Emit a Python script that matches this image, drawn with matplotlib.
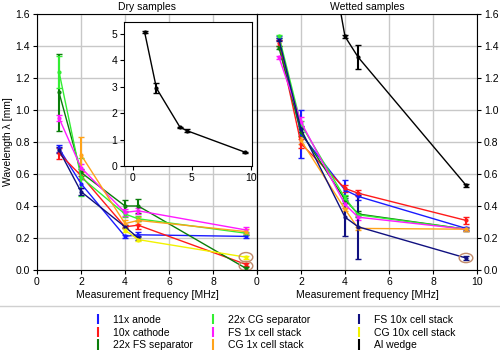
import matplotlib
matplotlib.use("Agg")
import matplotlib.pyplot as plt
from matplotlib.patches import Ellipse
from matplotlib.lines import Line2D

plt.rcParams["font.family"] = ["Liberation Sans", "DejaVu Sans"]
plt.rcParams["font.size"] = 7.5

labels = ["11x anode", "10x cathode", "22x FS separator", "22x CG separator",
          "FS 1x cell stack", "CG 1x cell stack", "FS 10x cell stack",
          "CG 10x cell stack", "Al wedge"]
colors = ["#1a1aff", "#ff1a1a", "#0a7d0a", "#33ee33", "#ff1aff",
          "#ffa31a", "#101080", "#f2f200", "#000000"]

# dry samples: frequency [MHz], wavelength [mm], error
dry_f = [[1, 2, 4, 4.6, 9.5], [1, 2, 4, 4.6, 9.5], [1, 2, 4, 4.6, 9.5],
         [1, 2, 4, 4.6, 9.5], [1, 2, 4, 4.6, 9.5], [2, 4, 4.6, 9.5],
         [1, 2, 4, 4.6], [4, 4.6, 9.5]]
dry_y = [[0.76, 0.54, 0.21, 0.22, 0.21],
         [0.73, 0.59, 0.27, 0.28, 0.035],
         [1.11, 0.61, 0.40, 0.40, 0.01],
         [1.24, 0.58, 0.35, 0.32, 0.23],
         [0.95, 0.64, 0.36, 0.37, 0.25],
         [0.72, 0.29, 0.31, 0.24],
         [0.75, 0.49, 0.27, 0.20],
         [0.25, 0.19, 0.08]]
dry_e = [[0.02, 0.03, 0.01, 0.015, 0.01],
         [0.035, 0.02, 0.01, 0.025, 0.01],
         [0.24, 0.02, 0.04, 0.045, 0.01],
         [0.10, 0.12, 0.02, 0.015, 0.01],
         [0.02, 0.02, 0.02, 0.02, 0.02],
         [0.11, 0.02, 0.02, 0.015],
         [0.02, 0.02, 0.01, 0.01],
         [0.01, 0.01, 0.01]]
al_dry_f = [1, 2, 4, 4.6, 9.5]
al_dry_y = [5.07, 2.95, 1.47, 1.34, 0.53]
al_dry_e = [0.03, 0.18, 0.03, 0.06, 0.02]

# wetted samples
wet_f = [[1, 2, 4, 4.6, 9.5], [1, 2, 4, 4.6, 9.5], [1, 2, 4, 4.6, 9.5],
         [1, 2, 4, 4.6, 9.5], [1, 2, 4, 4.6, 9.5], [2, 4, 4.6, 9.5],
         [1, 2, 4, 4.6, 9.5], [], [1, 2, 4, 4.6, 9.5]]
wet_y = [[1.45, 0.85, 0.50, 0.46, 0.26],
         [1.42, 0.79, 0.51, 0.48, 0.31],
         [1.39, 0.86, 0.44, 0.35, 0.255],
         [1.46, 0.91, 0.45, 0.345, 0.255],
         [1.33, 0.925, 0.41, 0.33, 0.255],
         [0.81, 0.38, 0.26, 0.255],
         [1.44, 0.88, 0.33, 0.27, 0.075],
         [],
         [5.0, 3.0, 1.46, 1.33, 0.53]]
wet_e = [[0.01, 0.15, 0.06, 0.02, 0.01],
         [0.02, 0.03, 0.02, 0.02, 0.02],
         [0.01, 0.02, 0.02, 0.02, 0.01],
         [0.01, 0.02, 0.02, 0.01, 0.01],
         [0.01, 0.03, 0.02, 0.02, 0.01],
         [0.02, 0.01, 0.01, 0.01],
         [0.01, 0.02, 0.12, 0.20, 0.01],
         [],
         [0.0, 0.0, 0.01, 0.075, 0.01]]

# circled points: (panel, freq, value)
circled = [("dry", 9.5, 0.08), ("dry", 9.5, 0.025), ("wet", 9.5, 0.075)]

fig = plt.figure(figsize=(5.0, 3.52), dpi=100)
ax1 = fig.add_axes([0.074, 0.233, 0.44, 0.727])
ax2 = fig.add_axes([0.514, 0.233, 0.44, 0.727])

ekw = dict(marker=".", markersize=4, lw=1, elinewidth=1.5, capsize=2.2, capthick=1)

for i in range(len(dry_f)):
    ax1.errorbar(dry_f[i], dry_y[i], yerr=dry_e[i], color=colors[i], **ekw)
for i in range(len(wet_f)):
    if wet_f[i]:
        ax2.errorbar(wet_f[i], wet_y[i], yerr=wet_e[i], color=colors[i], **ekw)

yt = [0, 0.2, 0.4, 0.6, 0.8, 1.0, 1.2, 1.4, 1.6]
ytl = ["0.0", "0.2", "0.4", "0.6", "0.8", "1.0", "1.2", "1.4", "1.6"]
for ax in (ax1, ax2):
    ax.set_xlim(0, 10)
    ax.set_ylim(0, 1.6)
    ax.set_yticks(yt)
    ax.set_yticklabels(ytl)
    ax.set_xticks([0, 2, 4, 6, 8, 10])
    ax.grid(True, color="#c8c8c8", lw=1)
    ax.set_axisbelow(True)
    ax.set_xlabel("Measurement frequency [MHz]", labelpad=2)
    ax.tick_params(length=3, pad=2)

ax1.set_xticklabels(["0", "2", "4", "6", "8", ""])
ax1.set_ylabel("Wavelength λ [mm]", labelpad=2)
ax1.set_title("Dry samples", pad=3, fontsize=7.5)
ax2.set_title("Wetted samples", pad=3, fontsize=7.5)
ax2.yaxis.tick_right()

for panel, f, v in circled:
    ax = ax1 if panel == "dry" else ax2
    ax.add_patch(Ellipse((f, v), 0.62, 0.058, fill=False, ec="#c08a6a", lw=1, zorder=5))

# inset with dry Al wedge
ins = fig.add_axes([0.248, 0.528, 0.256, 0.409])
ins.errorbar(al_dry_f, al_dry_y, yerr=al_dry_e, color=colors[8], **ekw)
ins.set_xlim(-0.75, 10.1)
ins.set_ylim(0, 5.45)
ins.set_xticks([0, 5, 10])
ins.set_yticks([0, 1, 2, 3, 4, 5])
ins.tick_params(length=3, pad=2)

# legend below
fig.add_artist(Line2D([0, 1], [0.131, 0.131], color="#d0d0d0", lw=1))
handles = []
for c in colors:
    h = ax1.errorbar([], [], yerr=[], fmt="none", ecolor=c, elinewidth=1.5,
                     capsize=2.2, capthick=1)
    handles.append(h)
for col, x0 in enumerate([0.164, 0.394, 0.686]):
    leg = fig.legend(handles[col * 3:col * 3 + 3], labels[col * 3:col * 3 + 3],
                     loc="upper left", bbox_to_anchor=(x0, 0.129), frameon=False,
                     fontsize=7.5, handlelength=1.5, handletextpad=0.7,
                     labelspacing=0.25, borderpad=0.3)

fig.savefig("out.png", dpi=100)
